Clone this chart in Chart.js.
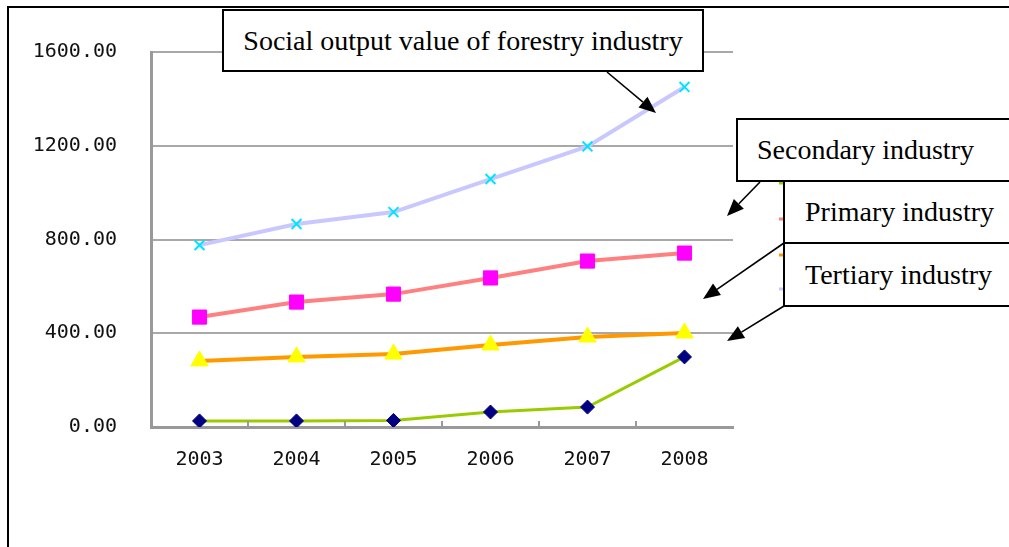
<!DOCTYPE html>
<html><head><meta charset="utf-8">
<script src="https://cdn.jsdelivr.net/npm/chart.js@4"></script>
<style>
html,body{margin:0;padding:0;background:#fff;overflow:hidden}
#wrap{position:relative;width:1009px;height:547px;overflow:hidden}
#c{position:absolute;left:0;top:0}
.frame{position:absolute;left:7px;top:6px;width:1100px;height:600px;border-top:2px solid #000;border-left:2px solid #000;}
.box{position:absolute;box-sizing:border-box;border:2px solid #000;background:#fff;font-family:"Liberation Serif","Times New Roman",serif;font-size:28px;color:#000;display:flex;align-items:center;white-space:nowrap}
</style></head>
<body>
<div id="wrap">
<div class="frame"></div>
<canvas id="c" width="1009" height="547"></canvas>
<div class="box" style="left:222px;top:9px;width:482px;height:63px;justify-content:center;">Social output value of forestry industry</div>
<div class="box" style="left:736px;top:118px;width:300px;height:64px;padding-left:19px;">Secondary industry</div>
<div class="box" style="left:783px;top:180px;width:260px;height:64px;padding-left:20px;">Primary industry</div>
<div class="box" style="left:783px;top:242px;width:260px;height:65px;padding-left:20px;">Tertiary industry</div>
</div>
<script>
const categories = ['2003', '2004', '2005', '2006', '2007', '2008'];
const secondaryIndustry = [26, 26, 28, 64, 85, 299];
const primaryIndustry = [469, 533, 567, 636, 708, 742];
const tertiaryIndustry = [282, 299, 311, 350, 384, 401];
const socialOutput = [776, 866, 917, 1058, 1197, 1451];
const yTickValues = [0, 400, 800, 1200, 1600];

const annot = {
  id: 'annot',
  afterDraw(chart) {
    const ctx = chart.ctx;
    const xs = chart.scales.x, ys = chart.scales.y;
    // inward x-axis tick marks at category boundaries
    ctx.save();
    ctx.strokeStyle = '#999';
    ctx.lineWidth = 2;
    const n = categories.length;
    for (let i = 1; i < n; i++) {
      const px = Math.round(xs.left + i * (xs.right - xs.left) / n);
      ctx.beginPath();
      ctx.moveTo(px, ys.bottom);
      ctx.lineTo(px, ys.bottom - 6);
      ctx.stroke();
    }
    ctx.restore();
    // partially hidden legend samples
    const legY = [183, 219, 255, 289];
    chart.data.datasets.forEach((ds, i) => {
      ctx.save();
      ctx.strokeStyle = ds.borderColor;
      ctx.lineWidth = 3;
      ctx.beginPath();
      ctx.moveTo(779, legY[i]);
      ctx.lineTo(786, legY[i]);
      ctx.stroke();
      ctx.restore();
    });
    // callout arrows
    const arrows = [[607, 72, 656, 113], [760, 182, 727, 216], [784, 243, 703, 299], [784, 306, 727, 341]];
    ctx.save();
    ctx.strokeStyle = '#000';
    ctx.fillStyle = '#000';
    ctx.lineWidth = 1.6;
    arrows.forEach(([x1, y1, x2, y2]) => {
      const a = Math.atan2(y2 - y1, x2 - x1);
      const L = 17, W = 7;
      const bx = x2 - L * Math.cos(a), by = y2 - L * Math.sin(a);
      ctx.beginPath();
      ctx.moveTo(x1, y1);
      ctx.lineTo(bx, by);
      ctx.stroke();
      ctx.beginPath();
      ctx.moveTo(x2, y2);
      ctx.lineTo(bx + W * Math.sin(a), by - W * Math.cos(a));
      ctx.lineTo(bx - W * Math.sin(a), by + W * Math.cos(a));
      ctx.closePath();
      ctx.fill();
    });
    ctx.restore();
  }
};

const tickFont = { family: '"DejaVu Sans Mono", monospace', size: 20 };

new Chart(document.getElementById('c'), {
  type: 'line',
  data: {
    labels: categories,
    datasets: [
      { label: 'Secondary industry', data: secondaryIndustry, borderColor: '#99cc00', borderWidth: 3,
        pointStyle: 'rectRot', pointRadius: 7, pointBackgroundColor: '#000080', pointBorderColor: '#000080', pointBorderWidth: 1 },
      { label: 'Primary industry', data: primaryIndustry, borderColor: '#ff8080', borderWidth: 4,
        pointStyle: 'rect', pointRadius: 10, pointBackgroundColor: '#ff00ff', pointBorderColor: '#ff00ff', pointBorderWidth: 1 },
      { label: 'Tertiary industry', data: tertiaryIndustry, borderColor: '#ff9900', borderWidth: 4,
        pointStyle: 'triangle', pointRadius: 10, pointBackgroundColor: '#ffff00', pointBorderColor: '#ffff00', pointBorderWidth: 1 },
      { label: 'Social output value of forestry industry', data: socialOutput, borderColor: '#c8c8ff', borderWidth: 4,
        pointStyle: 'crossRot', pointRadius: 7, pointBackgroundColor: '#00e5ff', pointBorderColor: '#00e5ff', pointBorderWidth: 2 }
    ]
  },
  options: {
    responsive: false,
    animation: false,
    devicePixelRatio: 1,
    layout: { padding: { left: 0, right: 276, top: 52, bottom: 0 } },
    plugins: { legend: { display: false }, tooltip: { enabled: false } },
    elements: { line: { tension: 0 } },
    scales: {
      x: {
        offset: true,
        afterFit(s) { s.height = 120; },
        grid: { display: true, drawOnChartArea: false, drawTicks: false },
        border: { color: '#999', width: 3 },
        ticks: { font: tickFont, color: '#111', padding: 21, maxRotation: 0 }
      },
      y: {
        min: 0, max: 1600,
        afterFit(s) { s.width = 151; },
        afterBuildTicks(s) { s.ticks = yTickValues.map(v => ({ value: v })); },
        grid: { color: '#a8a8a8', lineWidth: 2, drawTicks: false },
        border: { color: '#999', width: 3 },
        ticks: { font: tickFont, color: '#111', padding: 34, callback: v => Number(v).toFixed(2) }
      }
    }
  },
  plugins: [annot]
});
</script>
</body></html>
